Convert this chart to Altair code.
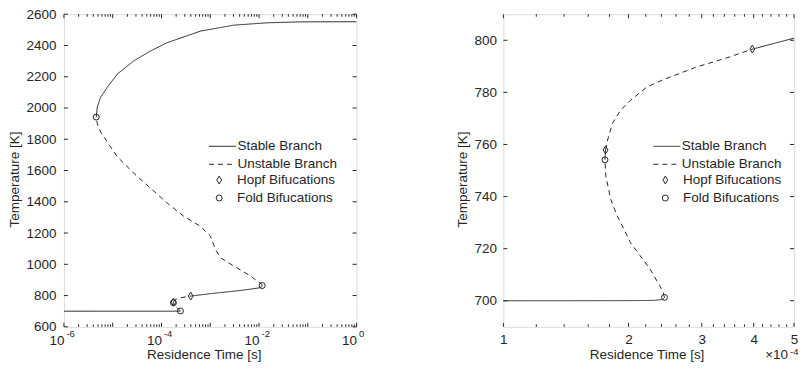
import altair as alt
import pandas as pd

FONT = "Liberation Sans"
INK = "#262626"

# ---------------- data ----------------
# continuation curve, in path order: residence time [s], temperature [K]
stable_low_t = [1e-6, 1e-5, 1e-4, 2.0e-4, 2.3e-4, 2.42e-4, 2.44e-4]
stable_low_T = [700.0, 700.0, 700.0, 700.05, 700.15, 700.5, 701.3]
unstable_1_t = [2.44e-4, 2.42e-4, 2.375e-4, 2.25e-4, 2.132e-4, 2.02e-4,
                1.949e-4, 1.879e-4, 1.813e-4, 1.764e-4, 1.755e-4]
unstable_1_T = [701.3, 703.5, 705.9, 712.3, 717.3, 722.4,
                727.5, 732.5, 738.9, 747.8, 754.1]
stable_mid_t = [1.755e-4, 1.761e-4]
stable_mid_T = [754.1, 757.9]
unstable_2_t = [1.761e-4, 1.781e-4, 1.829e-4, 1.913e-4, 2.02e-4,
                2.211e-4, 2.418e-4, 2.897e-4, 3.468e-4, 3.97e-4]
unstable_2_T = [757.9, 761.7, 768.1, 773.1, 776.9,
                782.0, 784.8, 789.6, 793.4, 796.6]
stable_ign_t = [3.97e-4, 5.0e-4, 7.0e-4, 1.0e-3, 2.0e-3, 4.0e-3,
                7.0e-3, 1.0e-2, 1.13e-2, 1.16e-2]
stable_ign_T = [796.6, 800.8, 806, 812, 822, 832, 842, 849, 856, 864]
unstable_3_t = [1.16e-2, 1.13e-2, 9.1e-3, 6.65e-3, 3.03e-3, 1.62e-3,
                1.28e-3, 1.01e-3, 6.3e-4, 2.86e-4, 1.31e-4, 5.97e-5,
                2.72e-5, 1.24e-5, 5.65e-6, 4.83e-6, 4.6e-6]
unstable_3_T = [864, 873, 894, 926, 989, 1042, 1095, 1180, 1243, 1307,
                1392, 1487, 1582, 1688, 1846, 1900, 1942]
stable_high_t = [4.6e-6, 4.83e-6, 5.65e-6, 7.74e-6, 1.24e-5, 2.72e-5,
                 5.97e-5, 1.31e-4, 6.31e-4, 3.03e-3, 1.46e-2, 7.03e-2, 1.0]
stable_high_T = [1942, 2005, 2069, 2132, 2217, 2302, 2365, 2418, 2492,
                 2530, 2545, 2551, 2552]

hopf_t = [1.761e-4, 3.97e-4]
hopf_T = [757.9, 796.6]
fold_t = [2.44e-4, 1.755e-4, 1.16e-2, 4.6e-6]
fold_T = [701.3, 754.1, 864, 1942]

branch_names = ["Stable Branch", "Unstable Branch"]
marker_names = ["Hopf Bifucations", "Fold Bifucations"]

# axis ticks / labels
left_x_labels = [1e-6, 1e-4, 1e-2, 1.0]
left_x_exps = ["-6", "-4", "-2", "0"]
left_x_major = [1e-6, 1e-5, 1e-4, 1e-3, 1e-2, 1e-1, 1.0]
decades = [1e-6, 1e-5, 1e-4, 1e-3, 1e-2, 1e-1]
mults = [2, 3, 4, 5, 6, 7, 8, 9]
left_x_minor = [d * m for d in decades for m in mults]
left_y_ticks = [600, 800, 1000, 1200, 1400, 1600, 1800, 2000, 2200, 2400, 2600]

right_x_major = [1e-4, 2e-4, 3e-4, 4e-4, 5e-4]
right_x_minor_mant = [1.2, 1.4, 1.6, 1.8, 2.2, 2.4, 2.6, 2.8, 3.2, 3.4, 3.6,
                      3.8, 4.2, 4.4, 4.6, 4.8]
right_x_minor = [m * 1e-4 for m in right_x_minor_mant]
right_y_ticks = [700, 720, 740, 760, 780, 800]
right_scale_base = "\u00d710"
right_scale_exp = "-4"

# ---------------- tables ----------------
segments = [
    ("Stable Branch", stable_low_t, stable_low_T),
    ("Unstable Branch", unstable_1_t, unstable_1_T),
    ("Stable Branch", stable_mid_t, stable_mid_T),
    ("Unstable Branch", unstable_2_t, unstable_2_T),
    ("Stable Branch", stable_ign_t, stable_ign_T),
    ("Unstable Branch", unstable_3_t, unstable_3_T),
    ("Stable Branch", stable_high_t, stable_high_T),
]
rows = []
for i, (b, ts, Ts) in enumerate(segments):
    for j, (t, T) in enumerate(zip(ts, Ts)):
        rows.append({"seg": i, "ord": j, "branch": b, "t": t, "T": T})
line_df = pd.DataFrame(rows)

pt_df = pd.DataFrame(
    [{"kind": "Hopf Bifucations", "t": t, "T": T} for t, T in zip(hopf_t, hopf_T)]
    + [{"kind": "Fold Bifucations", "t": t, "T": T} for t, T in zip(fold_t, fold_T)]
)

DIAMOND = "M0,-1.33L0.8,0L0,1.33L-0.8,0Z"

W1, W2, H = 293, 291, 313


def tick_layers(xs, ys, xa, ya, W, H, x_major, x_minor, y_major, maj, mnr):
    layers = []
    for vals, ln in ((x_major, maj), (x_minor, mnr)):
        b = alt.Chart(pd.DataFrame({"t": vals}))
        layers.append(b.mark_rule(color=INK, strokeWidth=1).encode(
            x=alt.X("t:Q", scale=xs, axis=xa), y=alt.value(H), y2=alt.value(H - ln)))
        layers.append(b.mark_rule(color=INK, strokeWidth=1).encode(
            x=alt.X("t:Q", scale=xs, axis=xa), y=alt.value(0), y2=alt.value(ln)))
    b = alt.Chart(pd.DataFrame({"T": y_major}))
    layers.append(b.mark_rule(color=INK, strokeWidth=1).encode(
        y=alt.Y("T:Q", scale=ys, axis=ya), x=alt.value(0), x2=alt.value(maj)))
    layers.append(b.mark_rule(color=INK, strokeWidth=1).encode(
        y=alt.Y("T:Q", scale=ys, axis=ya), x=alt.value(W), x2=alt.value(W - maj)))
    return layers


def leg_common():
    return dict(orient="none", title=None, padding=0, rowPadding=3,
                clipHeight=13.5, symbolStrokeWidth=1, symbolStrokeColor=INK,
                labelFontSize=13.5, labelFont=FONT, labelColor=INK)


def panel(W, H, xdom, ydom, xa, ya, legx_line, legx_shape, legy_line, legy_shape,
          x_major, x_minor, y_major, extra):
    xs = alt.Scale(type="log", domain=xdom, nice=False)
    ys = alt.Scale(domain=ydom, nice=False, zero=False)
    lines = alt.Chart(line_df).mark_line(color=INK, strokeWidth=1, clip=True).encode(
        x=alt.X("t:Q", scale=xs, axis=xa),
        y=alt.Y("T:Q", scale=ys, axis=ya),
        strokeDash=alt.StrokeDash(
            "branch:N",
            scale=alt.Scale(domain=branch_names, range=[[1, 0], [5, 4]]),
            legend=alt.Legend(legendX=legx_line, legendY=legy_line, labelOffset=1,
                              symbolSize=729, **leg_common()),
        ),
        detail="seg:N",
        order="ord:Q",
    )
    pts = alt.Chart(pt_df).mark_point(filled=False, color=INK, strokeWidth=1,
                                      size=36, opacity=1, clip=True).encode(
        x=alt.X("t:Q", scale=xs, axis=xa),
        y=alt.Y("T:Q", scale=ys, axis=ya),
        shape=alt.Shape(
            "kind:N",
            scale=alt.Scale(domain=marker_names, range=[DIAMOND, "circle"]),
            legend=alt.Legend(legendX=legx_shape, legendY=legy_shape, labelOffset=11,
                              symbolSize=36, symbolFillColor="transparent",
                              **leg_common()),
        ),
    )
    layers = [lines, pts] + tick_layers(xs, ys, xa, ya, W, H, x_major, x_minor,
                                        y_major, 4, 2.5)
    layers += extra(xs, xa, W, H)
    return alt.layer(*layers).properties(width=W, height=H).resolve_scale(
        strokeDash="independent", shape="independent")


def left_extra(xs, xa, W, H):
    d = pd.DataFrame({"t": left_x_labels, "e": left_x_exps})
    return [alt.Chart(d).mark_text(align="left", baseline="alphabetic", dx=2.5,
                                   fontSize=9.5, font=FONT, color=INK).encode(
        x=alt.X("t:Q", scale=xs, axis=xa), y=alt.value(H + 10.2), text="e:N")]


def right_extra(xs, xa, W, H):
    d = pd.DataFrame({"b": [right_scale_base], "e": [right_scale_exp]})
    return [
        alt.Chart(d).mark_text(align="right", baseline="alphabetic", fontSize=13.5,
                               font=FONT, color=INK).encode(
            x=alt.value(W - 6), y=alt.value(H + 32.2), text="b:N"),
        alt.Chart(d).mark_text(align="left", baseline="alphabetic", fontSize=9.5,
                               font=FONT, color=INK).encode(
            x=alt.value(W - 4), y=alt.value(H + 27.9), text="e:N"),
    ]


common = dict(ticks=False, domain=False, grid=False, labelFlush=False,
              labelOverlap=False, labelFont=FONT, labelFontSize=13.5,
              labelColor=INK, titleFont=FONT, titleFontSize=13.5,
              titleFontWeight="normal", titleColor=INK)

left_xaxis = alt.Axis(values=left_x_labels, labelExpr="'10'", labelAlign="right",
                      labelBaseline="alphabetic", labelPadding=18.2,
                      title="Residence Time [s]", titleX=140, titleY=32.2,
                      titleBaseline="alphabetic", titleAlign="center", **common)
left_yaxis = alt.Axis(values=left_y_ticks, format="d", labelPadding=8,
                      title="Temperature [K]",
                      titleAngle=270, titleX=-45.3, titleY=165,
                      titleBaseline="alphabetic", titleAlign="center", **common)
right_xaxis = alt.Axis(values=right_x_major,
                       labelExpr="format(datum.value * 10000, 'd')",
                       labelAlign="center", labelBaseline="alphabetic",
                       labelPadding=16.7, title="Residence Time [s]", titleX=143.4,
                       titleY=32.2, titleBaseline="alphabetic", titleAlign="center",
                       **common)
right_yaxis = alt.Axis(values=right_y_ticks, format="d", labelPadding=7,
                       title="Temperature [K]",
                       titleAngle=270, titleX=-36.9, titleY=165,
                       titleBaseline="alphabetic", titleAlign="center", **common)

left = panel(W1, H, [1e-6, 1.0], [600, 2600], left_xaxis, left_yaxis,
             144.7, 148.7, 125.5, 159.3, left_x_major, left_x_minor, left_y_ticks,
             left_extra)
right = panel(W2, H, [1e-4, 5e-4], [690, 810], right_xaxis, right_yaxis,
              149.7, 155.4, 125.5, 159.3, right_x_major, right_x_minor, right_y_ticks,
              right_extra)

chart = alt.hconcat(left, right, spacing=89).resolve_scale(
    x="independent", y="independent", strokeDash="independent", shape="independent"
).resolve_legend(strokeDash="independent", shape="independent").properties(
    padding={"left": -1, "top": -2, "right": 0, "bottom": 0}
).configure_view(stroke=INK, strokeWidth=1).configure(background="white")

chart.save("out.html", embed_options={"renderer": "svg", "actions": False})
